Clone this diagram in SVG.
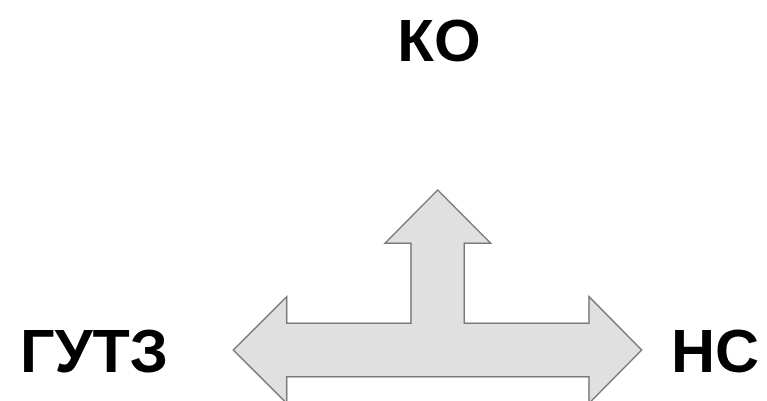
<svg xmlns="http://www.w3.org/2000/svg" width="767" height="401" viewBox="0 0 767 401">
<style>
.lbl{font-family:"Liberation Sans",Arial,sans-serif;font-weight:bold;fill:#000;text-anchor:middle}
.arrow{fill:#e0e0e0;stroke:#7a7a7a;stroke-width:1.5;stroke-linejoin:miter}
</style>
<rect width="767" height="401" fill="#fff"/>
<g id="connectors">
<path class="arrow" d="M437.7,190 L490.7,243.3 L464.3,243.3 L464.3,323.3 L589,323.3 L589,296.7 L641.7,350 L589,403.3 L589,376.7 L286.7,376.7 L286.7,403.3 L233.3,350 L286.7,296.7 L286.7,323.3 L411,323.3 L411,243.3 L385,243.3 Z"/>
</g>
<g id="node-ko"><text class="lbl" x="439" y="61" font-size="60">КО</text></g>
<g id="node-gutz"><text class="lbl" x="94" y="371.5" font-size="61">ГУТЗ</text></g>
<g id="node-ns"><text class="lbl" x="715" y="371.5" font-size="61">НС</text></g>
</svg>
